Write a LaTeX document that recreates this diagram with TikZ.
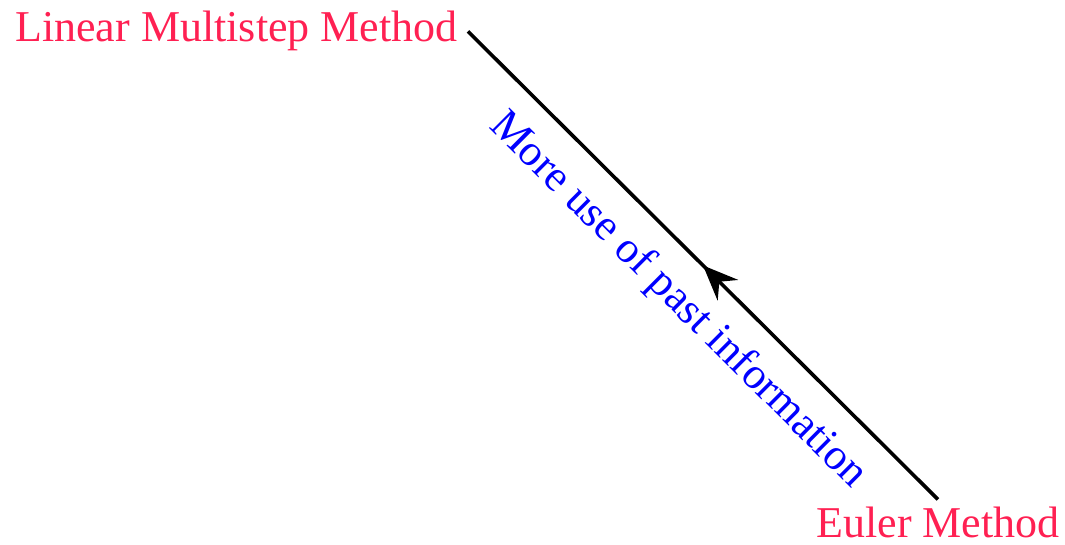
\documentclass[tikz,border=0pt]{standalone}
\usepackage{fontspec}
\setmainfont{Liberation Serif}
\usetikzlibrary{arrows.meta,decorations.markings}
\definecolor{methodred}{RGB}{255,32,82}
\tikzset{
  method/.style={text=methodred, font=\fontsize{22pt}{26pt}\selectfont, inner xsep=5pt, inner ysep=3.3pt},
  infolabel/.style={text=blue, font=\fontsize{22pt}{26pt}\selectfont, outer sep=8pt},
  midarrow/.style={line width=1.8pt, postaction={decorate}, decoration={markings,
    mark=at position 0.5 with {\arrow{Stealth[length=17.5pt,width=14.5pt,inset=6pt]}}}}
}
\begin{document}
\begin{tikzpicture}[x=0.5pt,y=0.5pt]
\useasboundingbox (0,0) rectangle (1065,-545);
\node[method, anchor=base east] (lin) at (468,-42) {Linear Multistep Method};
\node[method, anchor=base] (eul) at (938,-537) {Euler Method};
\draw[midarrow] (eul.north) -- (lin.east)
  node[infolabel, pos=0.49, sloped, anchor=north] (lbl) {More use of past information};
\end{tikzpicture}
\end{document}
